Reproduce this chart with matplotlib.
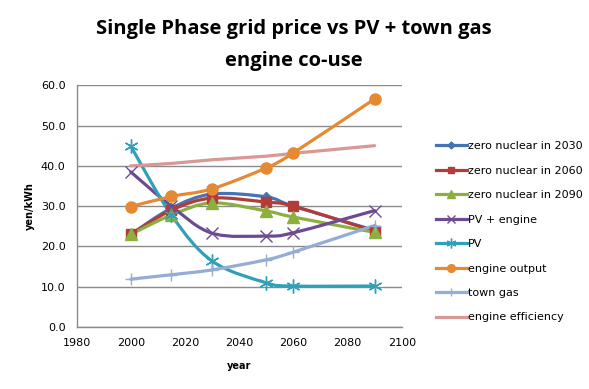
import numpy as np
import matplotlib.pyplot as plt
from matplotlib.path import Path
from matplotlib.patches import PathPatch
from matplotlib.lines import Line2D

years = [2000, 2015, 2030, 2050, 2060, 2090]
zero_2030 = [23.0, 29.5, 33.0, 32.3, 30.0, 24.0]
zero_2060 = [23.0, 29.0, 32.0, 31.0, 30.0, 23.8]
zero_2090 = [23.0, 27.8, 30.8, 28.8, 27.3, 23.5]
pv_engine = [38.5, 30.0, 23.3, 22.6, 23.4, 28.9]
pv = [44.9, 27.8, 16.4, 11.0, 10.2, 10.2]
engine_output = [29.9, 32.4, 34.3, 39.5, 43.2, 56.6]
town_gas = [11.9, 13.0, 14.2, 16.7, 18.6, 25.2]
engine_eff = [40.0, 40.6, 41.5, 42.4, 43.1, 45.0]

series = [
    ("zero nuclear in 2030", zero_2030, "#4573b3", "D", 5),
    ("zero nuclear in 2060", zero_2060, "#b33c39", "s", 7),
    ("zero nuclear in 2090", zero_2090, "#8bb040", "^", 8),
    ("PV + engine", pv_engine, "#6d4b92", "x", 8),
    ("PV", pv, "#2fa0b6", (6, 2, 0), 10),
    ("engine output", engine_output, "#e58a32", "o", 8),
    ("town gas", town_gas, "#94acd6", "+", 9),
    ("engine efficiency", engine_eff, "#d99795", None, 0),
]


def smooth_path(x, y):
    # Excel-style smoothed line: cubic bezier through every point
    pts = np.column_stack([x, y]).astype(float)
    n = len(pts)
    verts = [pts[0]]
    codes = [Path.MOVETO]
    for i in range(n - 1):
        p0 = pts[i - 1] if i > 0 else pts[i]
        p1 = pts[i]
        p2 = pts[i + 1]
        p3 = pts[i + 2] if i + 2 < n else pts[i + 1]
        c1 = p1 + (p2 - p0) / 6.0
        c2 = p2 - (p3 - p1) / 6.0
        verts += [c1, c2, p2]
        codes += [Path.CURVE4] * 3
    return Path(verts, codes)


fig = plt.figure(figsize=(5.89, 3.89), dpi=100)
ax = fig.add_axes([0.130, 0.159, 0.552, 0.622])

handles = []
for label, vals, color, marker, ms in series:
    patch = PathPatch(smooth_path(years, vals), facecolor="none", edgecolor=color,
                      lw=2.3, capstyle="round", joinstyle="round", zorder=3)
    ax.add_patch(patch)
    if marker is not None:
        ax.plot(years, vals, linestyle="none", marker=marker, ms=ms, color=color,
                mec=color, mew=1.0, zorder=4)
    handles.append(Line2D([0], [0], color=color, lw=2.3, marker=marker,
                          ms=ms * 0.7 if marker else 0, mec=color))

ax.set_xlim(1980, 2100)
ax.set_ylim(0, 60)
ax.set_xticks(range(1980, 2101, 20))
ax.set_yticks(range(0, 61, 10))
ax.set_yticklabels([f"{v:.1f}" for v in range(0, 61, 10)])
ax.tick_params(length=0, labelsize=8)
ax.tick_params(axis="x", pad=8)
ax.tick_params(axis="y", pad=8)
ax.grid(axis="y", color="#8a8a8a", lw=1.0)
ax.set_axisbelow(True)
for s in ["top", "right"]:
    ax.spines[s].set_visible(False)
for s in ["left", "bottom"]:
    ax.spines[s].set_color("#8a8a8a")
    ax.spines[s].set_linewidth(1.0)

ax.set_xlabel("year", fontsize=7, fontweight="bold", labelpad=9)
ax.set_ylabel("yen/kWh", fontsize=7, fontweight="bold", labelpad=4)

fig.text(0.498, 0.926, "Single Phase grid price vs PV + town gas",
         ha="center", va="center", fontsize=14.5, fontweight="bold",
         family="Open Sans")
fig.text(0.499, 0.843, "engine co-use",
         ha="center", va="center", fontsize=14.5, fontweight="bold",
         family="Open Sans")

fig.legend(handles, [s[0] for s in series], loc="upper left",
           bbox_to_anchor=(0.732, 0.648), frameon=False, fontsize=8,
           handlelength=2.8, handletextpad=0.1, labelspacing=1.3,
           borderaxespad=0)

fig.savefig("out.png", dpi=100)
